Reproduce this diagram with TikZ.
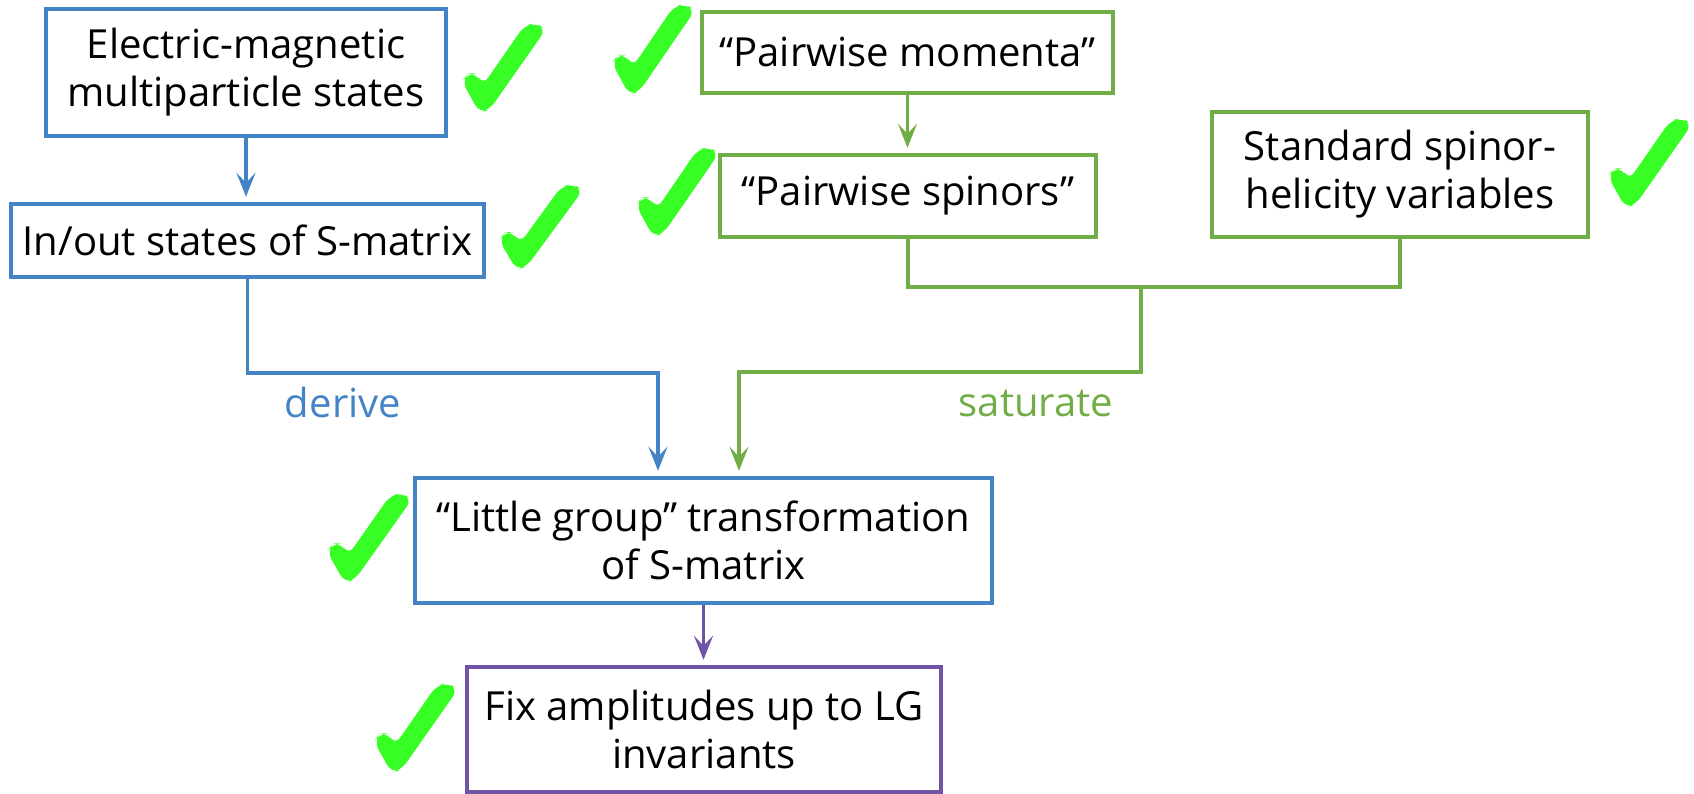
\documentclass[tikz,border=0pt]{standalone}
\usepackage{fontspec}
\setmainfont{Open Sans}
\usepackage{tikz}
\usetikzlibrary{arrows.meta}
\definecolor{lineblue}{RGB}{68,132,198}
\definecolor{linegreen}{RGB}{112,173,71}
\definecolor{linepurple}{RGB}{112,84,166}
\definecolor{tickgreen}{RGB}{55,255,38}
\tikzset{
  box/.style={draw, line width=1.1pt, inner sep=0pt, align=center, fill=white},
  bluebox/.style={box, draw=lineblue},
  greenbox/.style={box, draw=linegreen},
  purplebox/.style={box, draw=linepurple},
  link/.style={line width=1.1pt},
  arr/.style={link, -{Stealth[length=2.4mm,width=1.9mm,inset=1mm]}, shorten >=1.5pt},
  checkmark/.pic={
    \fill[tickgreen, rounded corners=2.5pt] (0,0.35) -- (0.07,0.44) -- (0.17,0.44) -- (0.25,0.31)
      -- (0.74,0.97) -- (0.88,1) -- (1,0.93) -- (0.33,0.04) -- (0.21,0) -- cycle;
  }
}
\begin{document}
\begin{tikzpicture}[font=\fontsize{11.4pt}{13.7pt}\selectfont]
	\useasboundingbox (0,0) rectangle (16.94,7.94);
	% boxes
	\node[bluebox, minimum width=4.00cm, minimum height=1.27cm] (em) at (2.46,7.215) {Electric-magnetic\\multiparticle states};
	\node[bluebox, minimum width=4.73cm, minimum height=0.73cm] (inout) at (2.475,5.535) {In/out states of S-matrix};
	\node[greenbox, minimum width=4.11cm, minimum height=0.81cm] (momenta) at (9.075,7.415) {“Pairwise momenta”};
	\node[greenbox, minimum width=3.76cm, minimum height=0.82cm] (spinors) at (9.08,5.98) {“Pairwise spinors”};
	\node[greenbox, minimum width=3.76cm, minimum height=1.25cm] (standard) at (14.00,6.195) {Standard spinor-\\helicity variables};
	\node[bluebox, minimum width=5.77cm, minimum height=1.25cm] (lg) at (7.035,2.535) {“Little group” transformation\\of S-matrix};
	\node[purplebox, minimum width=4.74cm, minimum height=1.25cm] (fix) at (7.04,0.645) {Fix amplitudes up to LG\\invariants};
	% bends
	\coordinate (mrg) at (11.41,5.07);
	\coordinate (sbend) at (7.39,4.22);
	\coordinate (dbend) at (6.58,4.21);
	% connectors
	\draw[arr, lineblue] (em.south) -- (em.south |- inout.north);
	\draw[arr, linegreen] (momenta.south) -- (momenta.south |- spinors.north);
	\draw[link, linegreen] (spinors.south) |- (mrg) -| (standard.south);
	\draw[arr, linegreen] (mrg) |- (sbend) -- (sbend |- lg.north);
	\draw[arr, lineblue] (inout.south) |- (dbend) -- (dbend |- lg.north);
	\draw[arr, linepurple] (lg.south) -- (lg.south |- fix.north);
	% labels
	\node[lineblue, anchor=base] (derive) at (3.43,3.76) {derive};
	\node[linegreen, anchor=base] (saturate) at (10.36,3.77) {saturate};
	% ticks
	\pic[xscale=0.84, yscale=0.9] at (4.62,6.81) {checkmark};
	\pic[xscale=0.84, yscale=0.86] at (4.99,5.24) {checkmark};
	\pic[xscale=0.83, yscale=0.91] at (6.12,6.99) {checkmark};
	\pic[xscale=0.83, yscale=0.9] at (6.36,5.57) {checkmark};
	\pic[xscale=0.84, yscale=0.9] at (16.08,5.86) {checkmark};
	\pic[xscale=0.85, yscale=0.9] at (3.27,2.11) {checkmark};
	\pic[xscale=0.84, yscale=0.9] at (3.74,0.21) {checkmark};
\end{tikzpicture}
\end{document}
